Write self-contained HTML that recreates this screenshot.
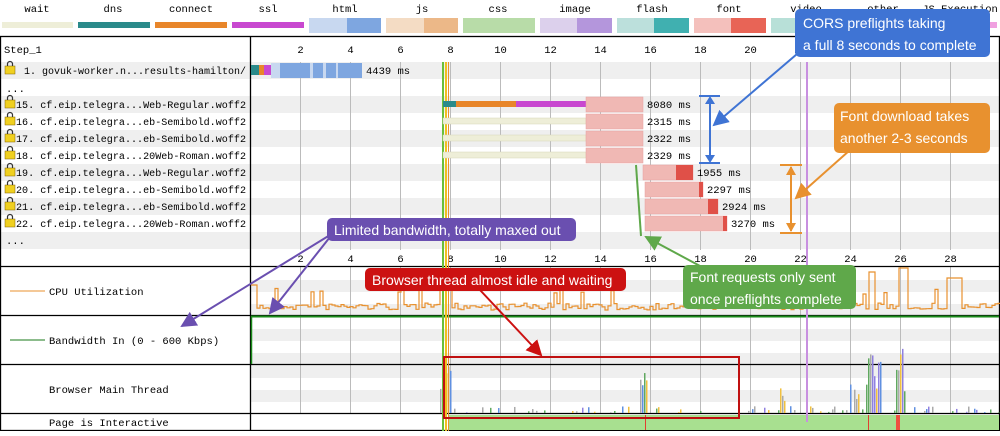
<!DOCTYPE html>
<html><head><meta charset="utf-8"><style>
body{margin:0;background:#fff;width:1000px;height:431px;overflow:hidden}
svg text{font-family:"Liberation Mono",monospace;font-size:10.5px;fill:#000}
svg #lbl text{font-size:10px}
.c{font-family:"Liberation Sans",sans-serif;font-size:14px;fill:#fff}
</style></head><body>
<svg id="s" width="1000" height="431" xmlns="http://www.w3.org/2000/svg">
<defs>
<marker id="ab" markerWidth="8" markerHeight="8" refX="7" refY="4" orient="auto"><path d="M0,0L8,4L0,8z" fill="#3f74d4"/></marker>
<marker id="ao" markerWidth="8" markerHeight="8" refX="7" refY="4" orient="auto"><path d="M0,0L8,4L0,8z" fill="#e8912f"/></marker>
<marker id="ap" markerWidth="8" markerHeight="8" refX="7" refY="4" orient="auto"><path d="M0,0L8,4L0,8z" fill="#6a4fb0"/></marker>
<marker id="ar" markerWidth="8" markerHeight="8" refX="7" refY="4" orient="auto"><path d="M0,0L8,4L0,8z" fill="#cc1111"/></marker>
<marker id="ag" markerWidth="8" markerHeight="8" refX="7" refY="4" orient="auto"><path d="M0,0L8,4L0,8z" fill="#5fa84a"/></marker>
</defs>
<g text-anchor="middle">
<text x="37" y="12">wait</text><text x="113" y="12">dns</text><text x="191" y="12">connect</text><text x="268" y="12">ssl</text><text x="345" y="12">html</text><text x="422" y="12">js</text><text x="498" y="12">css</text><text x="575" y="12">image</text><text x="652" y="12">flash</text><text x="729" y="12">font</text><text x="806" y="12">video</text><text x="883" y="12">other</text><text x="960" y="12">JS Execution</text>
</g>
<rect x="2" y="22" width="71" height="6" fill="#eeeed8"/>
<rect x="78" y="22" width="72" height="6" fill="#2a8a8a"/>
<rect x="155" y="22" width="72" height="6" fill="#e8862a"/>
<rect x="232" y="22" width="72" height="6" fill="#c848d0"/>
<rect x="309" y="18" width="38" height="15" fill="#c8d8f0"/><rect x="347" y="18" width="34" height="15" fill="#7ea6e0"/>
<rect x="386" y="18" width="38" height="15" fill="#f4dcc4"/><rect x="424" y="18" width="34" height="15" fill="#ecb888"/>
<rect x="463" y="18" width="72" height="15" fill="#b8dca8"/>
<rect x="540" y="18" width="37" height="15" fill="#dcd0ec"/><rect x="577" y="18" width="35" height="15" fill="#b496dc"/>
<rect x="617" y="18" width="37" height="15" fill="#bce0dc"/><rect x="654" y="18" width="35" height="15" fill="#40b0b0"/>
<rect x="694" y="18" width="37" height="15" fill="#f4c0bc"/><rect x="731" y="18" width="35" height="15" fill="#e86456"/>
<rect x="771" y="18" width="72" height="15" fill="#b8e0d8"/>
<rect x="848" y="18" width="72" height="15" fill="#ccc"/>
<rect x="925" y="22" width="72" height="6" fill="#f0a0e0"/>
<g fill="#efefef">
<rect x="1" y="62" width="998" height="17"/><rect x="1" y="96" width="998" height="17"/><rect x="1" y="130" width="998" height="17"/><rect x="1" y="164" width="998" height="17"/><rect x="1" y="198" width="998" height="17"/><rect x="1" y="232" width="998" height="17"/>
<rect x="251" y="280" width="748" height="12"/><rect x="251" y="304" width="748" height="11"/>
<rect x="251" y="329" width="748" height="12"/><rect x="251" y="353" width="748" height="11"/>
<rect x="251" y="364" width="748" height="14"/><rect x="251" y="390" width="748" height="12"/>
</g>
<g id="grid" stroke="#bbb" stroke-width="1"></g>
<g stroke="#000" stroke-width="1.3" fill="none">
<rect x="0.5" y="36.5" width="999" height="394"/>
<line x1="250.5" y1="36" x2="250.5" y2="431"/>
<line x1="0" y1="266.5" x2="1000" y2="266.5"/>
<line x1="0" y1="315.5" x2="1000" y2="315.5"/>
<line x1="0" y1="364.5" x2="1000" y2="364.5"/>
<line x1="0" y1="413.5" x2="1000" y2="413.5"/>
</g>
<g id="ticks" text-anchor="middle"></g>
<text x="4" y="53">Step_1</text>
<g id="lbl"></g>
<text x="6" y="92">...</text><text x="6" y="244">...</text>
<rect x="448" y="415" width="551" height="15" fill="#a8e090"/>
<rect x="645" y="415" width="1" height="15" fill="#e04030"/><rect x="868" y="415" width="1" height="15" fill="#e04030"/><rect x="896" y="415" width="4" height="15" fill="#f05040"/>
<line x1="10" y1="291" x2="45" y2="291" stroke="#e8912f"/><text x="49" y="295">CPU Utilization</text>
<line x1="10" y1="340" x2="45" y2="340" stroke="#1a7a1a"/><text x="49" y="344">Bandwidth In (0 - 600 Kbps)</text>
<text x="49" y="393">Browser Main Thread</text>
<text x="49" y="426">Page is Interactive</text>
<line x1="251" y1="316.5" x2="999" y2="316.5" stroke="#1a8a1a" stroke-width="2"/>
<line x1="251.5" y1="316" x2="251.5" y2="364" stroke="#1a8a1a" stroke-width="1.5"/>
<polyline id="cpu" fill="none" stroke="#e8912f" stroke-width="1.2"/>
<g id="mt"></g>
<rect x="442" y="62" width="2" height="369" fill="#6bbf3a"/>
<rect x="445" y="62" width="2" height="369" fill="#f0c020"/>
<rect x="448" y="62" width="1" height="369" fill="#e8912f"/>
<rect x="806" y="62" width="2" height="360" fill="#c890e0"/>
<rect x="251" y="65" width="8" height="10" fill="#2a8a8a"/><rect x="259" y="65" width="5" height="10" fill="#e8862a"/><rect x="264" y="65" width="7" height="10" fill="#c848d0"/>
<rect x="271" y="63" width="91" height="15" fill="#c8d8f0"/><rect x="280" y="63" width="82" height="15" fill="#7ea6e0"/>
<rect x="310" y="63" width="3" height="15" fill="#c8d8f0"/><rect x="323" y="63" width="3" height="15" fill="#c8d8f0"/><rect x="336" y="63" width="2" height="15" fill="#c8d8f0"/>
<text x="366" y="74">4439 ms</text>
<rect x="443" y="101" width="13" height="6" fill="#2a8a8a"/><rect x="456" y="101" width="60" height="6" fill="#e8862a"/><rect x="516" y="101" width="70" height="6" fill="#c848d0"/>
<g fill="#eeeed8" stroke="#d8d8b8" stroke-width=".5">
<rect x="443" y="118" width="143" height="6"/><rect x="443" y="135" width="143" height="6"/><rect x="443" y="152" width="143" height="6"/></g>
<g fill="#f0b8b4" stroke="#e8a0a0" stroke-width=".5">
<rect x="586" y="97" width="57" height="15"/><rect x="586" y="114" width="57" height="15"/><rect x="586" y="131" width="57" height="15"/><rect x="586" y="148" width="57" height="15"/>
<rect x="643" y="165" width="50" height="15"/><rect x="645" y="182" width="58" height="15"/><rect x="645" y="199" width="73" height="15"/><rect x="645" y="216" width="82" height="15"/></g>
<g fill="#e05048">
<rect x="676" y="165" width="17" height="15"/><rect x="699" y="182" width="4" height="15"/><rect x="708" y="199" width="10" height="15"/><rect x="723" y="216" width="4" height="15"/></g>
<text x="647" y="108">8080 ms</text><text x="647" y="125">2315 ms</text><text x="647" y="142">2322 ms</text><text x="647" y="159">2329 ms</text>
<text x="697" y="176">1955 ms</text><text x="707" y="193">2297 ms</text><text x="722" y="210">2924 ms</text><text x="731" y="227">3270 ms</text>
<rect x="444" y="357" width="295" height="61" fill="none" stroke="#c01010" stroke-width="2"/>
<g stroke="#3f74d4" stroke-width="2"><line x1="699" y1="96" x2="720" y2="96"/><line x1="699" y1="163" x2="720" y2="163"/><line x1="710" y1="98" x2="710" y2="161"/></g>
<path d="M705,104L710,96L715,104zM705,155L710,163L715,155z" fill="#3f74d4"/>
<line x1="797" y1="54" x2="714" y2="125" stroke="#3f74d4" stroke-width="2" marker-end="url(#ab)"/>
<rect x="795" y="9" width="195" height="48" rx="5" fill="#3f74d4"/>
<text class="c" x="803" y="28">CORS preflights taking</text><text class="c" x="803" y="50">a full 8 seconds to complete</text>
<g stroke="#e8912f" stroke-width="2"><line x1="780" y1="165" x2="802" y2="165"/><line x1="780" y1="233" x2="802" y2="233"/><line x1="791" y1="167" x2="791" y2="231"/></g>
<path d="M786,175L791,166L796,175zM786,223L791,232L796,223z" fill="#e8912f"/>
<line x1="850" y1="150" x2="796" y2="198" stroke="#e8912f" stroke-width="2" marker-end="url(#ao)"/>
<rect x="834" y="103" width="156" height="50" rx="5" fill="#e8912f"/>
<text class="c" x="840" y="121">Font download takes</text><text class="c" x="840" y="143">another 2-3 seconds</text>
<g stroke="#6a4fb0" stroke-width="2"><line x1="330" y1="235" x2="182" y2="326" marker-end="url(#ap)"/><line x1="330" y1="237" x2="270" y2="313" marker-end="url(#ap)"/></g>
<rect x="327" y="218" width="249" height="23" rx="5" fill="#6a4fb0"/>
<text class="c" x="334" y="235">Limited bandwidth, totally maxed out</text>
<line x1="480" y1="290" x2="541" y2="355" stroke="#cc1111" stroke-width="2" marker-end="url(#ar)"/>
<rect x="365" y="268" width="261" height="23" rx="5" fill="#cc1111"/>
<text class="c" x="372" y="285">Browser thread almost idle and waiting</text>
<polyline points="636,165 641,236" fill="none" stroke="#5fa84a" stroke-width="2"/>
<line x1="700" y1="266" x2="646" y2="237" stroke="#5fa84a" stroke-width="2" marker-end="url(#ag)"/>
<rect x="683" y="265" width="173" height="44" rx="5" fill="#5fa84a"/>
<text class="c" x="690" y="282">Font requests only sent</text><text class="c" x="690" y="304">once preflights complete</text>
</svg>
<script>
var N="http://www.w3.org/2000/svg",s=document.getElementById('s');
function el(t,a,p){var e=document.createElementNS(N,t);for(var k in a)e.setAttribute(k,a[k]);(p||s).appendChild(e);return e}
var g=document.getElementById('grid'),tk=document.getElementById('ticks');
for(var i=2;i<=28;i+=2){var x=250+i*25+.5;
el('line',{x1:x,y1:62,x2:x,y2:250},g);el('line',{x1:x,y1:266,x2:x,y2:413},g);
var t=el('text',{x:x,y:53},tk);t.textContent=i;var t2=el('text',{x:x,y:262},tk);t2.textContent=i;}
var L=[[74,"1. govuk-worker.n...results-hamilton/","#000"],[108,"15. cf.eip.telegra...Web-Regular.woff2","#000"],[125,"16. cf.eip.telegra...eb-Semibold.woff2","#000"],[142,"17. cf.eip.telegra...eb-Semibold.woff2","#000"],[159,"18. cf.eip.telegra...20Web-Roman.woff2","#000"],[176,"19. cf.eip.telegra...Web-Regular.woff2","#2020c0"],[193,"20. cf.eip.telegra...eb-Semibold.woff2","#2020c0"],[210,"21. cf.eip.telegra...eb-Semibold.woff2","#2020c0"],[227,"22. cf.eip.telegra...20Web-Roman.woff2","#2020c0"]];
var lg=document.getElementById('lbl');
L.forEach(function(r,j){var t=el('text',{x:j==0?24:16,y:r[0],fill:r[2],textLength:j==0?222:230,lengthAdjust:'spacingAndGlyphs'},lg);t.textContent=r[1];
el('rect',{x:5,y:r[0]-8,width:10,height:8,fill:'#f0d020',stroke:'#806000','stroke-width':.5},lg);el('path',{d:'M7.5,'+(r[0]-8)+'v-2a2.5,2.5 0 0 1 5,0v2',fill:'none',stroke:'#333','stroke-width':1.2},lg);});
var seed=7;function R(){seed=(seed*16807)%2147483647;return seed/2147483647}
var pts=[],y;for(var x=251;x<999;x+=3){y=303+R()*7;if(R()<.07)y=294-R()*8;
if(x>=440&&x<=450)y=272;if(x>=945&&x<=960)y=278;if(x>=868&&x<=874)y=272;if(x>=899&&x<=905)y=268;if(x===251||x===254)y=285;
pts.push(x+','+y.toFixed(1));pts.push((x+3)+','+y.toFixed(1));}
document.getElementById('cpu').setAttribute('points',pts.join(' '));
var mt=document.getElementById('mt'),cols=['#f0c040','#9080e0','#60a860','#aaa','#6090e0'];
for(var x=440;x<999;x+=2){var h=R()<.2?R()*7:0;
if(x>=432&&x<=450)h=20+R()*45;if((x>=640&&x<=646))h=25+R()*15;if(x>=780&&x<=784)h=R()*30;if(x>=850&&x<=858)h=R()*35;if(x>=866&&x<=880)h=20+R()*45;if(x>=895&&x<=904)h=20+R()*45;
if(h>0)el('rect',{x:x,y:413-h,width:1.5,height:h,fill:cols[Math.floor(R()*5)]},mt);}
</script>
</body></html>
